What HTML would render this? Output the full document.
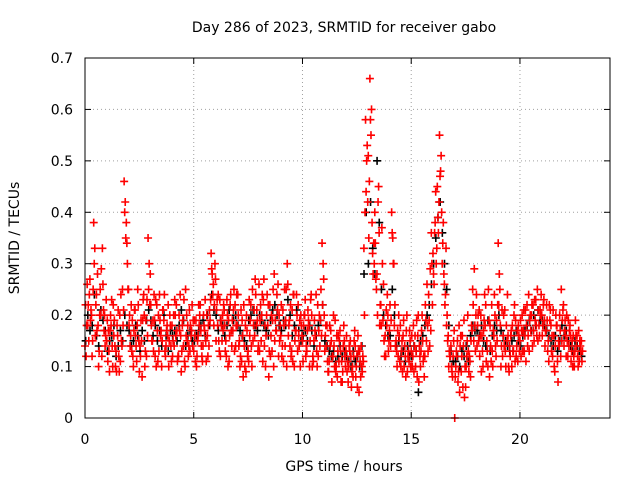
<!DOCTYPE html>
<html><head><meta charset="utf-8"><style>
body{margin:0;background:#fff;}
svg text{font-family:"DejaVu Sans","Liberation Sans",sans-serif;font-size:14px;fill:#000;}
</style></head><body>
<svg id="chart" width="640" height="480" xmlns="http://www.w3.org/2000/svg">
<rect width="640" height="480" fill="#fff"/>
<text x="344" y="32" text-anchor="middle">Day 286 of 2023, SRMTID for receiver gabo</text>
<text x="344" y="471" text-anchor="middle">GPS time / hours</text>
<text transform="translate(19,238) rotate(-90)" text-anchor="middle">SRMTID / TECUs</text>
<g id="grid"></g>
<g id="marks"></g>
<rect x="85" y="58" width="525" height="360" fill="none" stroke="#000" stroke-width="1"/>
<g id="ticks"></g>
</svg>
<script>
const xTicks=[0,5,10,15,20];
const yTicks=[0,0.1,0.2,0.3,0.4,0.5,0.6,0.7];
const yTickLabels=["0","0.1","0.2","0.3","0.4","0.5","0.6","0.7"];
const redValuesA=[.14,.26,.24,.20,.38,.22,.18,.25,.33,.20,
.15,.13,.18,.22,.10,.16,.20,.14,.46,.38,
.25,.16,.12,.21,.18,.09,.15,.24,.19,.35,
.28,.15,.19,.22,.13,.17,.21,.12,.16,.20,
.18,.14,.22,.12,.16,.19,.10,.15,.21,.17,
.13,.19,.16,.22,.11,.17,.20,.14,.32,.26,
.27,.18,.23,.15,.21,.12,.19,.24,.17,.22,
.18,.15,.11,.22,.09,.13,.19,.25,.16,.21,
.26,.15,.23,.10,.18,.22,.13,.28,.17,.12,
.16,.21,.14,.30,.19,.13,.24,.17,.22,.10,
.15,.20,.13,.18,.24,.11,.16,.22,.14,.34,
.20,.14,.09,.17,.12,.19,.08,.15,.11,.18,
.13,.07,.15,.10,.17,.12,.05,.14,.11,.58,
.42,.66,.38,.30,.25,.45,.22,.19,.16,.24,
.17,.40,.30,.15,.12,.18,.09,.14,.20,.11,
.13,.18,.10,.16,.12,.20,.08,.15,.24,.17,
.32,.38,.45,.55,.40,.28,.33,.16,.12,.08,
.00,.12,.18,.09,.14,.06,.20,.11,.17,.29,
.24,.15,.20,.10,.18,.13,.08,.22,.16,.12,
.34,.18,.12,.21,.15,.09,.17,.13,.19,.11,
.15,.20,.13,.18,.24,.17,.22,.19,.25,.16,
.20,.23,.17,.15,.21,.12,.09,.18,.14,.25,
.22,.16,.12,.18,.15,.10,.14,.17,.13];
const redValuesB=[.12,.22,.19,.15,.33,.17,.13,.29,.21,.16,
.11,.17,.14,.19,.09,.12,.24,.18,.42,.30,
.20,.13,.17,.14,.22,.12,.19,.10,.23,.30,
.18,.13,.23,.11,.19,.15,.24,.17,.10,.14,
.15,.20,.11,.17,.13,.23,.16,.12,.18,.14,
.16,.12,.18,.14,.20,.15,.12,.19,.28,.22,
.21,.15,.19,.17,.13,.20,.16,.14,.25,.18,
.20,.12,.16,.10,.17,.23,.14,.18,.24,.13,
.19,.24,.14,.20,.08,.16,.25,.19,.21,.15,
.12,.18,.25,.16,.22,.11,.15,.20,.14,.18,
.18,.12,.21,.15,.10,.19,.13,.17,.25,.30,
.16,.11,.18,.07,.14,.10,.16,.13,.09,.12,
.09,.14,.06,.12,.08,.16,.11,.09,.20,.50,
.35,.55,.28,.34,.20,.18,.37,.15,.21,.13,
.14,.35,.22,.10,.16,.13,.19,.08,.12,.15,
.10,.14,.19,.07,.13,.11,.22,.18,.14,.30,
.26,.30,.36,.48,.34,.22,.20,.13,.10,.15,
.10,.07,.14,.16,.04,.12,.09,.15,.22,.13,
.18,.12,.16,.19,.11,.25,.14,.10,.20,.15,
.28,.14,.20,.10,.16,.12,.18,.22,.14,.16,
.12,.17,.21,.14,.19,.22,.15,.18,.21,.20,
.18,.14,.19,.22,.13,.16,.20,.07,.17,.19,
.17,.20,.14,.11,.16,.19,.12,.15,.11];
const redValuesC=[.22,.18,.27,.12,.30,.24,.10,.20,.26,.14,
.19,.09,.23,.16,.13,.21,.11,.25,.40,.34,
.18,.22,.10,.16,.25,.14,.08,.20,.12,.25,
.22,.19,.12,.17,.24,.10,.19,.14,.22,.18,
.12,.23,.17,.20,.09,.14,.25,.18,.13,.22,
.19,.10,.22,.17,.14,.23,.16,.21,.29,.18,
.15,.24,.12,.20,.18,.23,.11,.17,.21,.14,
.24,.10,.19,.14,.20,.11,.22,.15,.27,.19,
.13,.20,.27,.16,.22,.12,.19,.15,.24,.20,
.22,.11,.19,.26,.14,.21,.10,.24,.16,.20,
.11,.23,.17,.10,.20,.15,.24,.12,.19,.22,
.13,.18,.11,.15,.20,.09,.13,.17,.07,.15,
.16,.10,.12,.08,.14,.06,.13,.10,.33,.44,
.51,.58,.32,.40,.28,.36,.18,.26,.12,.20,
.22,.36,.18,.13,.20,.10,.16,.12,.09,.17,
.16,.09,.13,.20,.10,.15,.12,.26,.19,.36,
.28,.44,.39,.47,.30,.26,.18,.10,.14,.12,
.08,.15,.05,.12,.19,.10,.13,.08,.25,.18,
.14,.21,.09,.17,.22,.10,.18,.13,.24,.19,
.22,.10,.16,.13,.24,.14,.10,.20,.12,.18,
.19,.13,.16,.22,.13,.20,.17,.23,.15,.21,
.16,.19,.22,.11,.18,.21,.14,.11,.20,.15,
.14,.12,.19,.16,.10,.13,.16,.11,.15];
const redValuesD=[.18,.15,.21,.25,.16,.28,.20,.12,.17,.23,
.17,.20,.10,.14,.18,.09,.15,.21,.35,.25,
.14,.19,.21,.11,.15,.19,.23,.13,.16,.22,
.15,.24,.10,.20,.16,.21,.13,.18,.15,.11,
.20,.16,.12,.24,.18,.11,.20,.14,.16,.19,
.11,.15,.20,.12,.18,.11,.18,.23,.24,.30,
.23,.13,.18,.22,.15,.10,.22,.19,.13,.24,
.14,.21,.08,.18,.12,.16,.10,.21,.18,.14,
.22,.11,.18,.24,.13,.20,.10,.17,.26,.18,
.14,.25,.10,.18,.12,.24,.17,.13,.19,.16,
.20,.14,.19,.23,.12,.17,.10,.20,.16,.27,
.18,.09,.14,.12,.10,.16,.11,.07,.14,.10,
.11,.13,.09,.15,.10,.13,.08,.12,.40,.53,
.46,.60,.34,.27,.42,.22,.30,.12,.18,.15,
.19,.30,.14,.17,.11,.15,.10,.17,.13,.10,
.12,.16,.08,.14,.17,.12,.19,.13,.29,.22,
.36,.33,.42,.51,.38,.24,.15,.12,.09,.17,
.13,.09,.16,.06,.10,.15,.12,.18,.15,.20,
.20,.16,.13,.24,.15,.19,.11,.17,.14,.22,
.25,.21,.14,.18,.10,.16,.13,.11,.17,.13,
.17,.21,.11,.16,.20,.14,.23,.16,.18,.24,
.22,.17,.13,.19,.16,.10,.18,.15,.12,.21,
.19,.15,.17,.13,.12,.16,.10,.14,.13];
const blackValues=[.15,.20,.17,.18,.24,.16,.14,.21,.19,.17,
.13,.15,.16,.18,.12,.14,.17,.15,.20,.18,
.17,.14,.15,.18,.16,.13,.17,.15,.19,.21,
.19,.16,.18,.15,.17,.14,.20,.16,.13,.17,
.16,.17,.15,.18,.21,.19,.14,.16,.17,.15,
.15,.16,.17,.18,.19,.16,.20,.18,.24,.21,
.20,.17,.19,.18,.16,.18,.21,.17,.19,.20,
.18,.17,.16,.15,.14,.19,.20,.21,.18,.17,
.20,.19,.18,.17,.16,.19,.21,.22,.20,.18,
.17,.19,.18,.23,.20,.16,.18,.21,.17,.15,
.16,.17,.15,.18,.17,.14,.16,.18,.19,.22,
.15,.14,.13,.12,.13,.11,.12,.14,.12,.13,
.12,.11,.10,.13,.11,.12,.10,.14,.28,.40,
.30,.42,.33,.28,.50,.38,.25,.20,.18,.16,
.16,.25,.20,.14,.15,.12,.13,.11,.14,.12,
.12,.14,.13,.05,.15,.16,.18,.20,.22,.26,
.30,.35,.39,.42,.36,.30,.25,.18,.13,.11,
.11,.12,.10,.13,.12,.14,.11,.16,.18,.17,
.17,.16,.18,.15,.14,.19,.13,.16,.18,.17,
.20,.17,.16,.15,.14,.13,.15,.16,.17,.15,
.14,.16,.17,.18,.19,.17,.20,.18,.21,.19,
.19,.18,.17,.16,.15,.14,.16,.13,.15,.18,
.16,.17,.15,.14,.13,.15,.14,.13,.12];
const hours=redValuesA.map((v,i)=>i/10);

const NS="http://www.w3.org/2000/svg";
const X0=85,X1=610,Y0=418,Y1=58,XMAX=24.14,YMAX=0.7;
const xs=h=>X0+(X1-X0)*h/XMAX;
const ys=v=>Y0-(Y0-Y1)*v/YMAX;
const grid=document.getElementById('grid'),ticks=document.getElementById('ticks'),marks=document.getElementById('marks');
function line(p,x1,y1,x2,y2,st,dash){const l=document.createElementNS(NS,'line');l.setAttribute('x1',x1);l.setAttribute('y1',y1);l.setAttribute('x2',x2);l.setAttribute('y2',y2);l.setAttribute('stroke',st);if(dash)l.setAttribute('stroke-dasharray',dash);p.appendChild(l);return l;}
function txt(p,x,y,s,anchor){const t=document.createElementNS(NS,'text');t.setAttribute('x',x);t.setAttribute('y',y);t.setAttribute('text-anchor',anchor);t.textContent=s;p.appendChild(t);return t;}
xTicks.forEach(v=>{const x=xs(v);
 if(v>0){const g=line(grid,x,Y1,x,Y0,'#a0a0a0','1,3');}
 const a=line(ticks,x,Y0,x,Y0-6,'#000');
 const b=line(ticks,x,Y1,x,Y1+6,'#000');
 const t=txt(ticks,x,444,String(v),'middle');});
yTicks.forEach((v,i)=>{const y=ys(v);
 if(v>0&&v<YMAX-1e-9){const g=line(grid,X0,y,X1,y,'#a0a0a0','1,3');}
 const a=line(ticks,X0,y,X0+6,y,'#000');
 const b=line(ticks,X1,y,X1-6,y,'#000');
 const t=txt(ticks,73,y+5,yTickLabels[i],'end');});
function plus(x,y,col,name){const p=document.createElementNS(NS,'path');
 p.setAttribute('d',`M${x-4},${y}h8M${x},${y-4}v8`);p.setAttribute('stroke',col);p.setAttribute('stroke-width','1.6');
 
 
 marks.appendChild(p);}
blackValues.forEach((v,i)=>plus(xs(hours[i]+0.03),ys(v),'#000','black-point'));
redValuesA.forEach((v,i)=>plus(xs(hours[i]),ys(v),'#ff0000','red-point'));
redValuesB.forEach((v,i)=>plus(xs(hours[i]+0.05),ys(v),'#ff0000','red-point'));
redValuesC.forEach((v,i)=>plus(xs(hours[i]+0.025),ys(v),'#ff0000','red-point'));
redValuesD.forEach((v,i)=>plus(xs(hours[i]+0.075),ys(v),'#ff0000','red-point'));
</script>
</body></html>
